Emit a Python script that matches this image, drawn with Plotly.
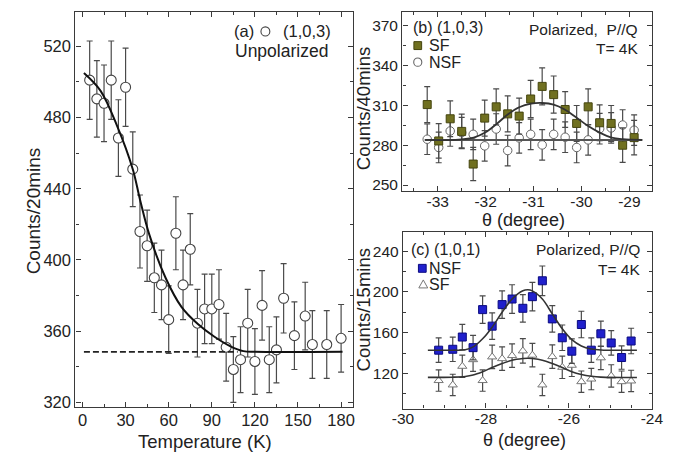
import plotly.graph_objects as go

W, H = 680, 457
FONT = "Liberation Sans, Arial, Helvetica, sans-serif"

# ---------------- (a) unpolarized (1,0,3) vs temperature ----------------
temp_K = [5, 10, 15, 20, 25, 30, 35, 40, 45, 50, 55, 60, 65, 70, 75, 80, 85,
          90, 95, 100, 105, 110, 115, 120, 125, 130, 135, 140, 147.5, 155,
          160, 170, 180]
counts_a = [501, 490.5, 488, 501, 468.5, 497, 451, 416, 408, 390, 386, 366.5,
            415, 386, 406, 364.5, 372.5, 372.5, 375, 351, 338.5, 344, 364.5,
            343, 374.5, 344, 349.5, 378.5, 357.5, 368.5, 352.5, 352.5, 356]
err_a = [22, 21.5, 21.5, 22, 21.5, 22, 21, 20.5, 20, 19.5, 19.5, 19, 20.5,
         19.5, 20, 19, 19.5, 19.5, 19.5, 19, 18.5, 18.5, 19, 18.5, 19.5, 18.5,
         18.5, 19.5, 19, 19, 19, 19, 19]
# order-parameter fit and paramagnetic background
fit_a_T = [1, 12.6, 24, 35, 40, 46.4, 57.8, 69, 80.3, 91.6, 103, 112, 120, 181]
fit_a_val = [505, 495, 475.5, 451, 434, 414.5, 390, 373.5, 364, 357, 351.5,
             348.8, 348.4, 348.4]
bg_a_T = [1, 108]
bg_a_val = [348.4, 348.4]

# ---------------- (b) polarized (1,0,3) theta scan ----------------
theta_b = [-33.22, -32.98, -32.74, -32.50, -32.26, -32.02, -31.78, -31.54,
           -31.30, -31.06, -30.82, -30.58, -30.34, -30.10, -29.86, -29.62,
           -29.38, -29.14, -28.90]
sf_b = [310.6, 283.2, 299.9, 290.4, 265.8, 300.4, 308.9, 303.6, 301.9, 314.8,
        324.3, 318.1, 306.9, 296.4, 308.9, 296.9, 296.4, 280.0, 285.7]
sf_b_err = [13.5, 13, 13.5, 13, 12.5, 13.5, 13.5, 13.5, 13.5, 14, 14, 14,
            13.5, 13.5, 13.5, 13.5, 13.5, 13, 13]
nsf_b = [284.5, 278.3, 290.7, 289.5, 288.2, 279.5, 292.2, 276.0, 285.5, 288.2,
         280.2, 288.2, 286.0, 278.3, 284.0, 292.4, 293.0, 295.2, 291.3]
nsf_b_err = [11.5] * 19
fit_sf_b_theta = [-33.27, -32.56, -32.25, -32.01, -31.78, -31.54, -31.30,
                  -31.05, -30.82, -30.58, -30.35, -30.10, -29.86, -29.62,
                  -29.37, -29.14, -28.73]
fit_sf_b_val = [284, 284.2, 285.7, 289.5, 295.7, 303.1, 308.6, 311.3, 311.8,
                310.6, 306.9, 300.7, 294.4, 289.5, 285.7, 284.5, 284]
fit_nsf_b_theta = [-33.27, -28.73]
fit_nsf_b_val = [284, 284]

# ---------------- (c) polarized (1,0,1) theta scan ----------------
theta_c = [-29.14, -28.80, -28.57, -28.31, -28.08, -27.85, -27.61, -27.37,
           -27.11, -26.88, -26.64, -26.40, -26.16, -25.93, -25.70, -25.46,
           -25.23, -24.98, -24.73, -24.50]
nsf_c = [142.8, 143.7, 155.7, 145.3, 182.6, 166.4, 187.5, 193.0, 183.9, 195.3,
         210.9, 173.5, 155.0, 141.8, 168.0, 142.8, 158.9, 149.9, 135.6, 151.8]
nsf_c_err = [12, 12, 12.5, 12, 13.5, 13, 13.5, 14, 13.5, 14, 14.5, 13, 12.5,
             12, 13, 12, 12.5, 12, 11.5, 12.5]
sf_c = [113, 108.7, 127, 133.5, 113, 136.2, 134.5, 137.5, 142.1, 137.9, 108.7,
        136.5, 126, 128, 111.9, 114.5, 135.3, 117.5, 111.9, 112.6]
sf_c_err = [10.5, 10.5, 11, 11.5, 10.5, 11.5, 11.5, 11.5, 12, 11.5, 10.5,
            11.5, 11, 11, 10.5, 10.5, 11.5, 11, 10.5, 10.5]
fit_c_theta = [-29.40, -28.80, -28.50, -28.31, -28.08, -27.85, -27.61, -27.37,
               -27.11, -26.99, -26.88, -26.64, -26.40, -26.16, -25.93, -25.70,
               -25.46, -25.23, -24.36]
fit_nsf_c_val = [142.8, 142.8, 143.2, 146, 154, 165.4, 180, 193, 201.1, 202.1,
                 201, 193, 178.4, 163.8, 153.1, 147, 144, 143, 142.8]
fit_sf_c_val = [116.1, 116.3, 117, 118.4, 121.7, 125.8, 129.7, 133, 134.6,
                134.9, 134.6, 133, 129.7, 125.8, 121.7, 119, 117.3, 116.4, 116]

# tick labels
ticks_b = [-33, -32, -31, -30, -29]
ticks_b_text = ["-33", "-32", "-31", "-30", "-29"]
ticks_c = [-30, -28, -26, -24]
ticks_c_text = ["-30", "-28", "-26", "-24"]


def fx(x):
    return x / W


def fy(y):
    return 1 - y / H


AX = "#3a3a3a"
EB = "#4a4a4a"


def ebar(arr):
    return dict(type="data", array=arr, color=EB, thickness=1.2, width=3)


fig = go.Figure()

# (a)
fig.add_trace(go.Scatter(
    x=temp_K, y=counts_a, mode="markers", error_y=ebar(err_a),
    marker=dict(symbol="circle", size=10, color="white",
                line=dict(color="#444", width=1.1)),
    xaxis="x", yaxis="y", showlegend=False))
fig.add_trace(go.Scatter(
    x=bg_a_T, y=bg_a_val, mode="lines",
    line=dict(color="#222", width=1.8, dash="6px,3px"),
    xaxis="x", yaxis="y", showlegend=False))
fig.add_trace(go.Scatter(
    x=fit_a_T, y=fit_a_val, mode="lines",
    line=dict(color="#111", width=2, shape="spline", smoothing=1),
    xaxis="x", yaxis="y", showlegend=False))

# (b)
fig.add_trace(go.Scatter(
    x=theta_b, y=nsf_b, mode="markers", error_y=ebar(nsf_b_err),
    marker=dict(symbol="circle", size=8.5, color="white",
                line=dict(color="#666", width=1)),
    xaxis="x2", yaxis="y2", showlegend=False))
fig.add_trace(go.Scatter(
    x=theta_b, y=sf_b, mode="markers", error_y=ebar(sf_b_err),
    marker=dict(symbol="square", size=8, color="#707020",
                line=dict(color="#45450f", width=1)),
    xaxis="x2", yaxis="y2", showlegend=False))
fig.add_trace(go.Scatter(
    x=fit_nsf_b_theta, y=fit_nsf_b_val, mode="lines",
    line=dict(color="#555", width=2),
    xaxis="x2", yaxis="y2", showlegend=False))
fig.add_trace(go.Scatter(
    x=fit_sf_b_theta, y=fit_sf_b_val, mode="lines",
    line=dict(color="#333", width=1.8, shape="spline", smoothing=1),
    xaxis="x2", yaxis="y2", showlegend=False))

# (c)
fig.add_trace(go.Scatter(
    x=theta_c, y=sf_c, mode="markers", error_y=ebar(sf_c_err),
    marker=dict(symbol="triangle-up", size=8, color="white",
                line=dict(color="#777", width=1)),
    xaxis="x3", yaxis="y3", showlegend=False))
fig.add_trace(go.Scatter(
    x=theta_c, y=nsf_c, mode="markers", error_y=ebar(nsf_c_err),
    marker=dict(symbol="square", size=8, color="#2020cc",
                line=dict(color="#0a0a80", width=1)),
    xaxis="x3", yaxis="y3", showlegend=False))
fig.add_trace(go.Scatter(
    x=fit_c_theta, y=fit_sf_c_val, mode="lines",
    line=dict(color="#333", width=1.6, shape="spline", smoothing=1),
    xaxis="x3", yaxis="y3", showlegend=False))
fig.add_trace(go.Scatter(
    x=fit_c_theta, y=fit_nsf_c_val, mode="lines",
    line=dict(color="#333", width=1.6, shape="spline", smoothing=1),
    xaxis="x3", yaxis="y3", showlegend=False))


def axis(size=16.5, **kw):
    d = dict(showline=True, mirror="allticks", linecolor=AX, linewidth=1.4,
             ticks="inside", ticklen=5, tickwidth=1.2, tickcolor=AX,
             showgrid=False, zeroline=False,
             tickfont=dict(family=FONT, size=size, color="#222"))
    d.update(kw)
    return d


def minor(step, start):
    return dict(dtick=step, tick0=start, ticks="inside", ticklen=3,
                tickwidth=1, tickcolor=AX, showgrid=False)


fig.update_layout(
    width=W, height=H, margin=dict(l=0, r=0, t=0, b=0),
    paper_bgcolor="white", plot_bgcolor="white",
    font=dict(family=FONT, color="#222"),
    xaxis=axis(domain=[fx(66.7), fx(354)], range=[-4.9, 188.3], anchor="y",
               tickmode="linear", tick0=0, dtick=30, minor=minor(15, 0),
               ticklabelstandoff=-2),
    yaxis=axis(domain=[fy(411), fy(11.7)], range=[317.2, 539.5], anchor="x",
               tickmode="linear", tick0=320, dtick=40, minor=minor(20, 320)),
    xaxis2=axis(15.5, domain=[fx(405), fx(663.3)], range=[-33.74, -28.53],
                anchor="y2", tickmode="array", tickvals=ticks_b,
                ticktext=ticks_b_text, minor=minor(0.5, -33),
                ticklabelstandoff=-4),
    yaxis2=axis(15.5, domain=[fy(192.7), fy(12)], range=[245.5, 380.4],
                anchor="x2", tickmode="linear", tick0=250, dtick=30,
                minor=minor(15, 250)),
    xaxis3=axis(15.5, domain=[fx(405.7), fx(663.3)], range=[-30, -24],
                anchor="y3", tickmode="array", tickvals=ticks_c,
                ticktext=ticks_c_text, minor=minor(0.5, -30),
                ticklabelstandoff=-4),
    yaxis3=axis(15.5, domain=[fy(412.3), fy(234)], range=[85.4, 258.8],
                anchor="x3", tickmode="linear", tick0=120, dtick=40,
                minor=minor(20, 120)),
)

anns = []


def text(x, y, s, size=16, anchor="left", angle=0):
    anns.append(dict(x=fx(x), y=fy(y), xref="paper", yref="paper", text=s,
                     showarrow=False, xanchor=anchor, yanchor="middle",
                     textangle=angle,
                     font=dict(family=FONT, size=size, color="#222")))


# axis titles
text(201.3, 445.5, "Temperature (K)", 18.5, "center")
text(23, 213, "Counts/20mins", 19, "center", -90)
text(530.7, 222, "θ (degree)", 18, "center")
text(364.5, 110, "Counts/40mins", 18.5, "center", -90)
text(531.7, 444, "θ (degree)", 18, "center")
text(364.5, 313, "Counts/15mins", 18.5, "center", -90)

# panel labels and keys
text(229, 31.7, "(a)", 16.5)
text(279, 31.7, "(1,0,3)", 16.5)
text(230, 51.7, "Unpolarized", 17.5)

text(414, 28, "(b) (1,0,3)", 16)
text(430.7, 46, "SF", 16)
text(430.7, 62.7, "NSF", 16)
text(651, 30, "Polarized,\u00a0 P//Q", 15.5, "right")
text(651, 49, "T= 4K", 15.5, "right")

text(412.3, 251.7, "(c) (1,0,1)", 16)
text(430.7, 270.7, "NSF", 16)
text(430.7, 286.7, "SF", 16)
text(652.7, 251.7, "Polarized, P//Q", 15.5, "right")
text(652.7, 271.7, "T= 4K", 15.5, "right")

fig.update_layout(annotations=anns)

shapes = []


def circ(cx, cy, r, fill, line):
    shapes.append(dict(type="circle", xref="paper", yref="paper",
                       x0=fx(cx - r), x1=fx(cx + r), y0=fy(cy + r),
                       y1=fy(cy - r), fillcolor=fill,
                       line=dict(color=line, width=1.1)))


def sq(cx, cy, h, fill, line):
    shapes.append(dict(type="rect", xref="paper", yref="paper",
                       x0=fx(cx - h), x1=fx(cx + h), y0=fy(cy + h),
                       y1=fy(cy - h), fillcolor=fill,
                       line=dict(color=line, width=1)))


def tri(cx, cy, h, line):
    p = "M {} {} L {} {} L {} {} Z".format(
        fx(cx - h), fy(cy + h * 0.75), fx(cx + h), fy(cy + h * 0.75),
        fx(cx), fy(cy - h))
    shapes.append(dict(type="path", xref="paper", yref="paper", path=p,
                       fillcolor="white", line=dict(color=line, width=1)))


circ(263.3, 31.7, 4.6, "white", "#444")
sq(421, 46, 4, "#707020", "#45450f")
circ(421, 62.7, 4.2, "white", "#666")
sq(425.7, 270.7, 4, "#2020cc", "#0a0a80")
tri(426.7, 287, 4.6, "#777")

fig.update_layout(shapes=shapes)

fig.write_html("out.html")
